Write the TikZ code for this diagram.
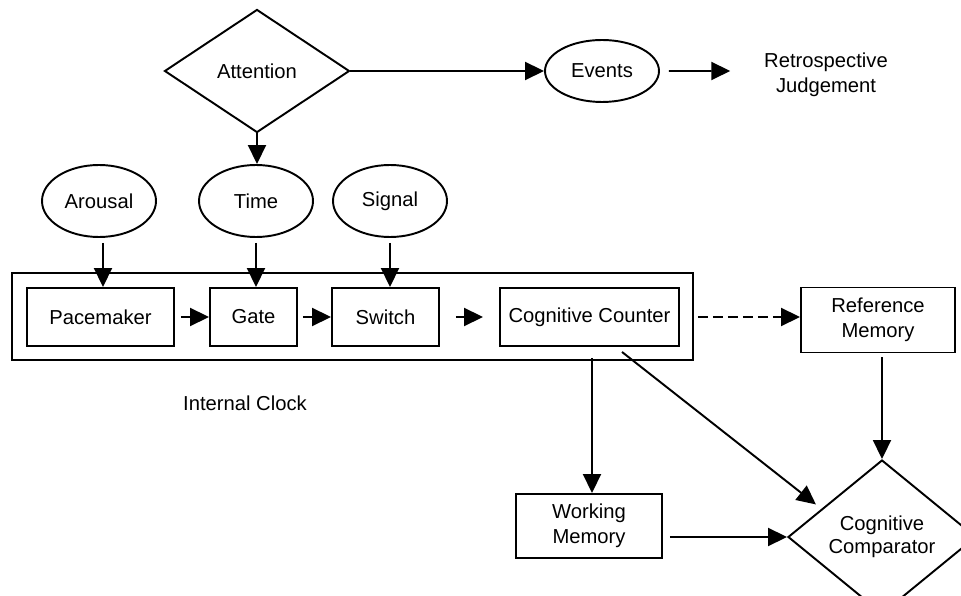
\documentclass[tikz,border=0pt]{standalone}
\usepackage{fontspec}
\setmainfont{Liberation Sans}
\usetikzlibrary{arrows.meta}
\usetikzlibrary{shapes.geometric}
\usetikzlibrary{calc}

\begin{document}
\begin{tikzpicture}[line width=1.1pt,
  every node/.style={font=\fontsize{11.5}{14.2}\selectfont, align=center, inner sep=0pt},
  arr/.style={-{Triangle[length=0.38cm,width=0.36cm]}},
  blob/.style={draw, ellipse, minimum width=2.28cm, minimum height=1.44cm},
  unit/.style={draw, rectangle, minimum height=1.16cm},
  decide/.style={draw, diamond, minimum width=3.7cm, minimum height=2.46cm}]
\useasboundingbox (0,0) rectangle (19.22,11.92);

\node[decide] (Attention) at (5.14,10.5) {Attention};
\node[blob, minimum height=1.24cm] (Events) at (12.04,10.5) {Events};
\node (Retro) at (16.52,10.42) {Retrospective\\Judgement};

\node[blob] (Arousal) at (1.98,7.9) {Arousal};
\node[blob] (Time) at (5.12,7.9) {Time};
\node[blob] (Signal) at (7.8,7.9) {Signal};

\draw (0.24,4.72) rectangle (13.86,6.46);
\node[unit, minimum width=2.94cm] (Pacemaker) at (2.01,5.58) {Pacemaker};
\node[unit, minimum width=1.74cm] (Gate) at (5.07,5.58) {Gate};
\node[unit, minimum width=2.14cm] (Switch) at (7.71,5.58) {Switch};
\node[unit, minimum width=3.58cm] (Counter) at (11.79,5.58) {Cognitive Counter};
\node (Clock) at (4.9,3.86) {Internal Clock};

\node[unit, minimum width=3.08cm, minimum height=1.3cm] (Reference) at (17.56,5.52) {Reference\\Memory};
\node[unit, minimum width=2.92cm, minimum height=1.28cm] (Working) at (11.78,1.4) {Working\\Memory};
\node[decide, minimum width=3.76cm, minimum height=2.44cm] (Comparator) at (17.64,1.18) {\raisebox{-2pt}{\begin{tabular}{@{}c@{}}Cognitive\\[-1.5pt]Comparator\end{tabular}}};

\draw[arr] (Attention.east) -- (Events.west);
\draw[arr, shorten <=0.18cm] (Events.east) -- ($(Retro.west)+(-0.66cm,0.08cm)$);
\draw[arr] (Attention.south) -- (Attention.south |- Time.north);

\draw[arr, shorten <=0.1cm] ($(Arousal.south)+(0.08,0)$) -- ($(Arousal.south |- Pacemaker.north)+(0.08,0)$);
\draw[arr, shorten <=0.1cm] (Time.south) -- (Time.south |- Gate.north);
\draw[arr, shorten <=0.1cm] (Signal.south) -- (Signal.south |- Switch.north);

\draw[arr, shorten <=0.12cm] (Pacemaker) -- (Gate);
\draw[arr, shorten <=0.1cm] (Gate) -- (Switch);
\draw[arr, shorten <=0.32cm, shorten >=0.32cm] (Switch) -- (Counter);
\draw[arr, dash pattern=on 0.2cm off 0.1cm, shorten <=0.36cm] (Counter.east) -- (Counter.east -| Reference.west);

\draw[arr, shorten <=0.22cm] ($(Counter.south)+(0.05,0)$) -- ($(Counter.south |- Working.north)+(0.05,0)$);
\draw[arr, shorten >=0.14cm] ($(Counter.south)+(0.65,-0.1)$) -- (Comparator.155);
\draw[arr, shorten <=0.08cm] (Comparator.north |- Reference.south) -- (Comparator.north);
\draw[arr, shorten <=0.14cm] (Working.east |- Comparator.west) -- (Comparator.west);
\end{tikzpicture}
\end{document}
